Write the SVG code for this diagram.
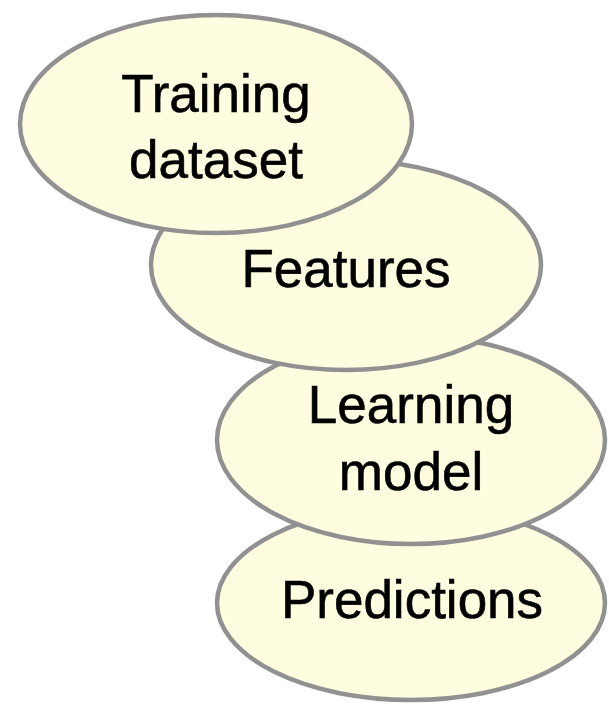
<svg xmlns="http://www.w3.org/2000/svg" width="609" height="707" viewBox="0 0 609 707">
  <style>
    .node ellipse { fill: #fefde0; stroke: #919191; stroke-width: 4.5; }
    .node text { font-family: "Liberation Sans", Arial, sans-serif; font-size: 53px; fill: #000; stroke: #000; stroke-width: 0.6; text-anchor: middle; }
  </style>
  <rect width="609" height="707" fill="#fff"/>
  <g id="connectors"/>
  <!-- drawn bottom-up so each upper node overlaps the one below -->
  <g id="predictions" class="node">
    <ellipse cx="411" cy="603" rx="194" ry="97"/>
    <text x="412" y="618">Predictions</text>
  </g>
  <g id="learning-model" class="node">
    <ellipse cx="411" cy="440" rx="194" ry="104"/>
    <text x="411" y="423">Learning</text>
    <text x="411" y="490">model</text>
  </g>
  <g id="features" class="node">
    <ellipse cx="346" cy="265" rx="195" ry="105"/>
    <text x="346" y="287">Features</text>
  </g>
  <g id="training-dataset" class="node">
    <ellipse cx="216" cy="124" rx="196" ry="109"/>
    <text x="216" y="112">Training</text>
    <text x="216" y="178">dataset</text>
  </g>
</svg>
